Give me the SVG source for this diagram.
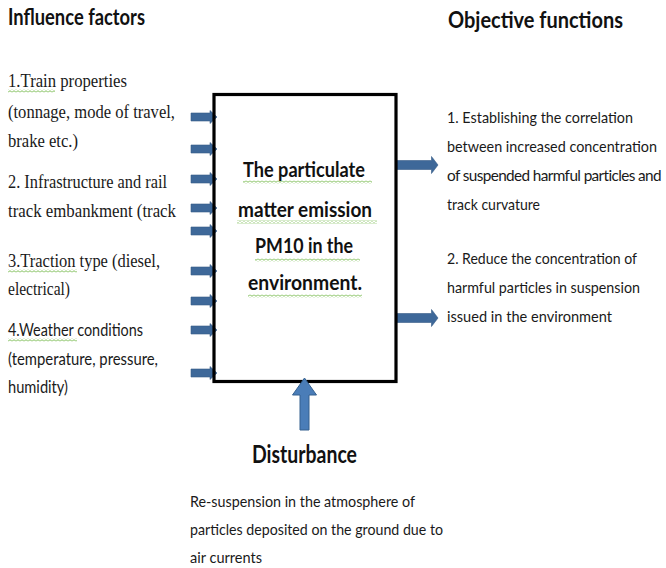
<svg xmlns="http://www.w3.org/2000/svg" xmlns:xlink="http://www.w3.org/1999/xlink" width="666" height="568" viewBox="0 0 666 568">
  <style>
    .title { font-family: Lato, "Open Sans", "Liberation Sans", sans-serif; font-weight: bold; fill: #111; }
    .serif { font-family: "Liberation Serif", "Times New Roman", serif; font-size: 19px; fill: #1a1a1a; }
    .sans { font-family: Lato, "Open Sans", "Liberation Sans", sans-serif; fill: #1a1a1a; }
    .left-sans { font-size: 17px; }
    .body { font-size: 16px; }
    .goal { font-size: 15px; }
    .tight { letter-spacing: -0.6px; }
    .center { font-family: Lato, "Open Sans", "Liberation Sans", sans-serif; font-weight: bold; font-size: 20.5px; fill: #111; text-anchor: middle; }
    .flow { fill: #3E6899; stroke: #355B87; stroke-width: 0.6; }
    .lift { fill: #4A7DB8; stroke: #34608F; stroke-width: 1; }
    .box { fill: none; stroke: #000; stroke-width: 3.2; }
  </style>
  <defs>
    <!-- spell-check style wavy underline -->
    <pattern id="squiggle" width="4" height="3" patternUnits="userSpaceOnUse">
      <path d="M0,2.3 L2,0.7 L4,2.3" fill="none" stroke="#74B84A" stroke-width="0.9"/>
    </pattern>
    <!-- short input arrow, tip at origin -->
    <path id="inArrow" class="flow" d="M-26,-4 H-7 V-6.5 L0,0 L-7,6.5 V4 H-26 Z"/>
    <!-- output arrow, tip at origin -->
    <path id="outArrow" class="flow" d="M-42,-4.5 H-6.5 V-8.5 L0,0 L-6.5,8.5 V4.5 H-42 Z"/>
  </defs>

  <rect width="666" height="568" fill="#fff"/>

  <!-- influence factors -->
  <g id="influence-factors">
    <text class="title" x="8" y="25" font-size="22" textLength="137" lengthAdjust="spacingAndGlyphs">Influence factors</text>
    <text class="serif" x="8" y="87" textLength="119" lengthAdjust="spacingAndGlyphs">1.Train properties</text>
    <text class="serif" x="8" y="118" textLength="167" lengthAdjust="spacingAndGlyphs">(tonnage, mode of travel,</text>
    <text class="serif" x="8" y="147" textLength="70" lengthAdjust="spacingAndGlyphs">brake etc.)</text>
    <text class="serif" x="8" y="188" textLength="159" lengthAdjust="spacingAndGlyphs">2. Infrastructure and rail</text>
    <text class="serif" x="8" y="217" textLength="168" lengthAdjust="spacingAndGlyphs">track embankment (track</text>
    <text class="serif" x="8" y="267" textLength="152" lengthAdjust="spacingAndGlyphs">3.Traction type (diesel,</text>
    <text class="serif" x="8" y="295" textLength="62" lengthAdjust="spacingAndGlyphs">electrical)</text>
    <text class="sans left-sans" x="8" y="336" textLength="135" lengthAdjust="spacingAndGlyphs">4.Weather conditions</text>
    <text class="sans left-sans" x="8" y="365" textLength="150" lengthAdjust="spacingAndGlyphs">(temperature, pressure,</text>
    <text class="sans left-sans" x="8" y="393" textLength="60" lengthAdjust="spacingAndGlyphs">humidity)</text>
    <rect x="8" y="89.5" width="47" height="3" fill="url(#squiggle)"/>
    <rect x="8" y="269.5" width="69" height="3" fill="url(#squiggle)"/>
    <rect x="8" y="338.5" width="69" height="3" fill="url(#squiggle)"/>
  </g>

  <!-- objective functions -->
  <g id="objective-functions">
    <text class="title" x="448" y="28" font-size="22" textLength="175" lengthAdjust="spacingAndGlyphs">Objective functions</text>
    <text class="sans goal" x="447" y="123" textLength="186" lengthAdjust="spacingAndGlyphs">1.  Establishing the correlation</text>
    <text class="sans goal" x="447" y="152" textLength="210" lengthAdjust="spacingAndGlyphs">between increased concentration</text>
    <text class="sans goal tight" x="447" y="181" textLength="214" lengthAdjust="spacingAndGlyphs">of suspended harmful particles and</text>
    <text class="sans goal" x="447" y="210" textLength="93" lengthAdjust="spacingAndGlyphs">track curvature</text>
    <text class="sans goal" x="447" y="264" textLength="190" lengthAdjust="spacingAndGlyphs">2. Reduce the concentration of</text>
    <text class="sans goal" x="447" y="293" textLength="193" lengthAdjust="spacingAndGlyphs">harmful particles in suspension</text>
    <text class="sans goal" x="447" y="322" textLength="165" lengthAdjust="spacingAndGlyphs">issued in the environment</text>
  </g>

  <!-- connectors -->
  <g id="connectors">
    <use xlink:href="#inArrow" x="217" y="117"/>
    <use xlink:href="#inArrow" x="217" y="149"/>
    <use xlink:href="#inArrow" x="217" y="179"/>
    <use xlink:href="#inArrow" x="217" y="208"/>
    <use xlink:href="#inArrow" x="217" y="231"/>
    <use xlink:href="#inArrow" x="217" y="271"/>
    <use xlink:href="#inArrow" x="217" y="301"/>
    <use xlink:href="#inArrow" x="217" y="330"/>
    <use xlink:href="#inArrow" x="217" y="373"/>
    <use xlink:href="#outArrow" x="438" y="165"/>
    <use xlink:href="#outArrow" x="438" y="318"/>
  </g>

  <!-- process block -->
  <g id="process">
    <rect class="box" x="214" y="94.5" width="182" height="287"/>
    <text class="center" x="304" y="177" textLength="122" lengthAdjust="spacingAndGlyphs">The particulate</text>
    <text class="center" x="305" y="217" textLength="134" lengthAdjust="spacingAndGlyphs">matter emission</text>
    <text class="center" x="304" y="253" textLength="98" lengthAdjust="spacingAndGlyphs">PM10 in the</text>
    <text class="center" x="305" y="290" textLength="114" lengthAdjust="spacingAndGlyphs">environment.</text>
    <rect x="243" y="180.5" width="129" height="3" fill="url(#squiggle)"/>
    <rect x="237" y="220.5" width="140" height="3" fill="url(#squiggle)"/>
    <rect x="255" y="258.5" width="105" height="3" fill="url(#squiggle)"/>
    <rect x="248" y="294.5" width="114" height="3" fill="url(#squiggle)"/>
  </g>

  <!-- disturbance input from below -->
  <g id="disturbance-arrow">
    <path class="lift" d="M304.5,378 L316.5,395 H309 V430 H300 V395 H292.5 Z"/>
  </g>

  <g id="disturbance">
    <text class="title" x="252" y="463" font-size="24" textLength="105" lengthAdjust="spacingAndGlyphs">Disturbance</text>
    <text class="sans body" x="190" y="507" textLength="225" lengthAdjust="spacingAndGlyphs">Re-suspension in the atmosphere of</text>
    <text class="sans body" x="190" y="535" textLength="253" lengthAdjust="spacingAndGlyphs">particles deposited on the ground due to</text>
    <text class="sans body" x="190" y="563" textLength="72" lengthAdjust="spacingAndGlyphs">air currents</text>
  </g>
</svg>
